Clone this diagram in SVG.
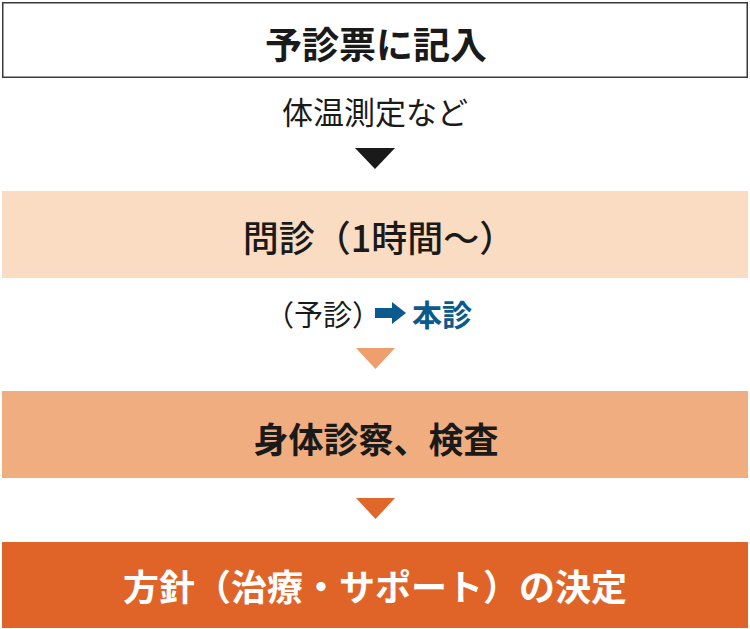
<svg xmlns="http://www.w3.org/2000/svg" width="750" height="629" viewBox="0 0 750 629">
<style>
.t{font-family:"Noto Sans CJK JP","Noto Sans CJK SC",sans-serif;text-anchor:middle;dominant-baseline:central;}
.b{font-weight:700;}
.m{font-weight:500;}
.r{font-weight:400;}
</style>
<rect width="750" height="629" fill="#ffffff"/>
<g id="connectors">
<polygon points="355,148 395,148 375,169" fill="#1a1a1a"/>
<polygon points="356,348 395,348 375.5,369" fill="#ef9f6d"/>
<polygon points="356,498 395,498 375.5,519" fill="#e0662a"/>
</g>
<g id="node1">
<rect x="2.75" y="2.75" width="744.5" height="74.5" fill="#ffffff" stroke="#3a3a3a" stroke-width="1.5"/>
<text class="t b" x="376" y="43" font-size="37" fill="#1a1a1a">予診票に記入</text>
</g>
<g id="label1">
<text class="t r" x="375" y="110" font-size="31" fill="#1a1a1a">体温測定など</text>
</g>
<g id="node2">
<rect x="2" y="191" width="746" height="87" fill="#fadcc3"/>
<text class="t m" x="379" y="236" font-size="36" fill="#1a1a1a">問診（1時間～）</text>
</g>
<g id="label2">
<text class="t r" x="323" y="313" font-size="29" fill="#1a1a1a">（予診）</text>
<polygon points="375,308 392,308 392,302 406,313 392,324 392,318 375,318" fill="#0b5a8e"/>
<text class="t b" x="442" y="313" font-size="30" fill="#0b5a8e">本診</text>
</g>
<g id="node3">
<rect x="2" y="391" width="746" height="87" fill="#f0ae80"/>
<text class="t b" x="376" y="437" font-size="35" fill="#1a1a1a">身体診察、検査</text>
</g>
<g id="node4">
<rect x="2" y="542" width="746" height="86" fill="#e06428"/>
<text class="t b" x="375" y="585" font-size="36" fill="#ffffff">方針（治療・サポート）の決定</text>
</g>
</svg>
